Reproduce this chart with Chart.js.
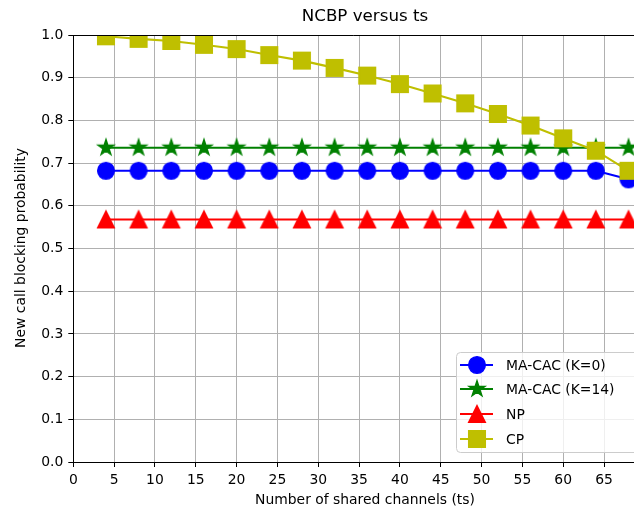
<!DOCTYPE html>
<html>
<head>
<meta charset="utf-8">
<script src="https://cdn.jsdelivr.net/npm/chart.js@4.4.0/dist/chart.umd.min.js"></script>
<style>
  html, body { margin: 0; padding: 0; background: #fff; overflow: hidden; }
  #wrap { width: 634px; height: 513px; }
</style>
</head>
<body>
<div id="wrap"><canvas id="myChart" width="634" height="513"></canvas></div>
<script>
// Data: x positions and the four series
let channels = [4, 8, 12, 16, 20, 24, 28, 32, 36, 40, 44, 48, 52, 56, 60, 64, 68];
let macacK0 = [0.682, 0.682, 0.682, 0.682, 0.682, 0.682, 0.682, 0.682, 0.682, 0.682, 0.682, 0.682, 0.682, 0.682, 0.682, 0.682, 0.662];
let macacK14 = [0.736, 0.736, 0.736, 0.736, 0.736, 0.736, 0.736, 0.736, 0.736, 0.736, 0.736, 0.736, 0.736, 0.736, 0.736, 0.736, 0.736];
let np = [0.568, 0.568, 0.568, 0.568, 0.568, 0.568, 0.568, 0.568, 0.568, 0.568, 0.568, 0.568, 0.568, 0.568, 0.568, 0.568, 0.568];
let cp = [0.997, 0.991, 0.986, 0.977, 0.967, 0.953, 0.940, 0.923, 0.905, 0.885, 0.863, 0.840, 0.815, 0.788, 0.758, 0.729, 0.682];

let seriesNames = ['MA-CAC (K=0)', 'MA-CAC (K=14)', 'NP', 'CP'];
let xTicks = [0, 5, 10, 15, 20, 25, 30, 35, 40, 45, 50, 55, 60, 65];
let yTicks = [0, 0.1, 0.2, 0.3, 0.4, 0.5, 0.6, 0.7, 0.8, 0.9, 1.0];

const FONT = '"DejaVu Sans", sans-serif';
const BLUE = '#0000ff', GREEN = '#008000', RED = '#ff0000', OLIVE = '#bfbf00';

// Marker images (filled shape with same-colour edge)
function makeMarker(kind, color) {
    const c = document.createElement('canvas');
    c.width = 22; c.height = 22;
    const g = c.getContext('2d');
    const cx = 11, cy = 11, s = 8.33;
    g.beginPath();
    if (kind === 'star') {
        const inner = s * 0.381966;
        for (let i = 0; i < 10; i++) {
            const r = i % 2 === 0 ? s : inner;
            const a = -Math.PI / 2 + i * Math.PI / 5;
            g.lineTo(cx + r * Math.cos(a), cy + r * Math.sin(a));
        }
    } else if (kind === 'triangle') {
        g.moveTo(cx, cy - s);
        g.lineTo(cx - s, cy + s);
        g.lineTo(cx + s, cy + s);
    } else if (kind === 'square') {
        g.rect(cx - s, cy - s, 2 * s, 2 * s);
    } else {
        g.arc(cx, cy, s, 0, Math.PI * 2);
    }
    g.closePath();
    g.fillStyle = color;
    g.fill();
    g.lineWidth = 1.4;
    g.strokeStyle = color;
    g.lineJoin = 'miter';
    g.stroke();
    return c;
}

const markers = [
    makeMarker('circle', BLUE),
    makeMarker('star', GREEN),
    makeMarker('triangle', RED),
    makeMarker('square', OLIVE)
];
const colors = [BLUE, GREEN, RED, OLIVE];

function toPoints(values) {
    return channels.map((x, i) => ({ x: x, y: values[i] }));
}

// Frame, title, axis labels and legend
const decorations = {
    id: 'decorations',
    beforeDraw(chart) {
        const ctx = chart.ctx;
        ctx.save();
        ctx.fillStyle = '#fff';
        ctx.fillRect(0, 0, chart.width, chart.height);
        ctx.restore();
    },
    afterDraw(chart) {
        const ctx = chart.ctx;
        const a = chart.chartArea;
        ctx.save();
        // top spine
        ctx.strokeStyle = '#000';
        ctx.lineWidth = 1;
        ctx.beginPath();
        ctx.moveTo(a.left, Math.round(a.top) + 0.5);
        ctx.lineTo(a.right, Math.round(a.top) + 0.5);
        ctx.stroke();

        ctx.fillStyle = '#000';
        ctx.textAlign = 'center';
        ctx.textBaseline = 'middle';
        ctx.font = '16.7px ' + FONT;
        ctx.fillText('NCBP versus ts', 365, 17);

        ctx.font = '13.9px ' + FONT;
        ctx.fillText('Number of shared channels (ts)', 365, 500);
        ctx.save();
        ctx.translate(21, 248);
        ctx.rotate(-Math.PI / 2);
        ctx.fillText('New call blocking probability', 0, 0);
        ctx.restore();

        // legend box
        const bx = 456.5, by = 352.5, bw = 200, bh = 100, r = 4;
        ctx.beginPath();
        ctx.moveTo(bx + r, by);
        ctx.lineTo(bx + bw - r, by);
        ctx.arcTo(bx + bw, by, bx + bw, by + r, r);
        ctx.lineTo(bx + bw, by + bh - r);
        ctx.arcTo(bx + bw, by + bh, bx + bw - r, by + bh, r);
        ctx.lineTo(bx + r, by + bh);
        ctx.arcTo(bx, by + bh, bx, by + bh - r, r);
        ctx.lineTo(bx, by + r);
        ctx.arcTo(bx, by, bx + r, by, r);
        ctx.closePath();
        ctx.fillStyle = 'rgba(255,255,255,0.8)';
        ctx.fill();
        ctx.strokeStyle = '#cccccc';
        ctx.lineWidth = 1;
        ctx.stroke();

        const rows = [365, 389, 414, 439];
        ctx.textAlign = 'left';
        ctx.font = '13.9px ' + FONT;
        seriesNames.forEach((name, i) => {
            const y = rows[i];
            ctx.strokeStyle = colors[i];
            ctx.lineWidth = 2.08;
            ctx.beginPath();
            ctx.moveTo(460, y);
            ctx.lineTo(493, y);
            ctx.stroke();
            ctx.drawImage(markers[i], 477 - 11, y - 11);
            ctx.fillStyle = '#000';
            ctx.fillText(name, 506, y + 1);
        });
        ctx.restore();
    }
};

const datasets = [macacK0, macacK14, np, cp].map((vals, i) => ({
    label: seriesNames[i],
    data: toPoints(vals),
    borderColor: colors[i],
    backgroundColor: colors[i],
    borderWidth: 2.08,
    pointStyle: markers[i],
    pointRadius: 9,
    pointHoverRadius: 9,
    tension: 0,
    clip: 0,
    order: 3 - i
}));

const ctx = document.getElementById('myChart').getContext('2d');
const myChart = new Chart(ctx, {
    type: 'line',
    data: { datasets: datasets },
    plugins: [decorations],
    options: {
        responsive: false,
        animation: false,
        devicePixelRatio: 1,
        layout: { autoPadding: false, padding: { top: 35, left: 0, right: 0, bottom: 0 } },
        plugins: {
            legend: { display: false },
            title: { display: false },
            tooltip: { enabled: false }
        },
        scales: {
            x: {
                type: 'linear',
                min: 0,
                max: 68.67,
                afterBuildTicks: (scale) => { scale.ticks = xTicks.map(v => ({ value: v })); },
                afterFit: (scale) => {
                    scale.height = 51;
                    scale.paddingLeft = 0;
                    scale.paddingRight = 0;
                },
                grid: { color: '#b0b0b0', lineWidth: 1, tickColor: '#000', tickLength: 5 },
                border: { color: '#000', width: 1 },
                ticks: {
                    color: '#000',
                    padding: 5,
                    maxRotation: 0,
                    autoSkip: false,
                    font: { family: FONT, size: 13.9 },
                    callback: (v) => String(v)
                }
            },
            y: {
                type: 'linear',
                min: 0,
                max: 1.0,
                afterBuildTicks: (scale) => { scale.ticks = yTicks.map(v => ({ value: v })); },
                afterFit: (scale) => {
                    scale.width = 73.3;
                    scale.paddingTop = 0;
                    scale.paddingBottom = 0;
                },
                grid: { color: '#b0b0b0', lineWidth: 1, tickColor: '#000', tickLength: 5 },
                border: { color: '#000', width: 1 },
                ticks: {
                    color: '#000',
                    padding: 5,
                    autoSkip: false,
                    font: { family: FONT, size: 13.9 },
                    callback: (v) => Number(v).toFixed(1)
                }
            }
        }
    }
});
</script>
</body>
</html>
